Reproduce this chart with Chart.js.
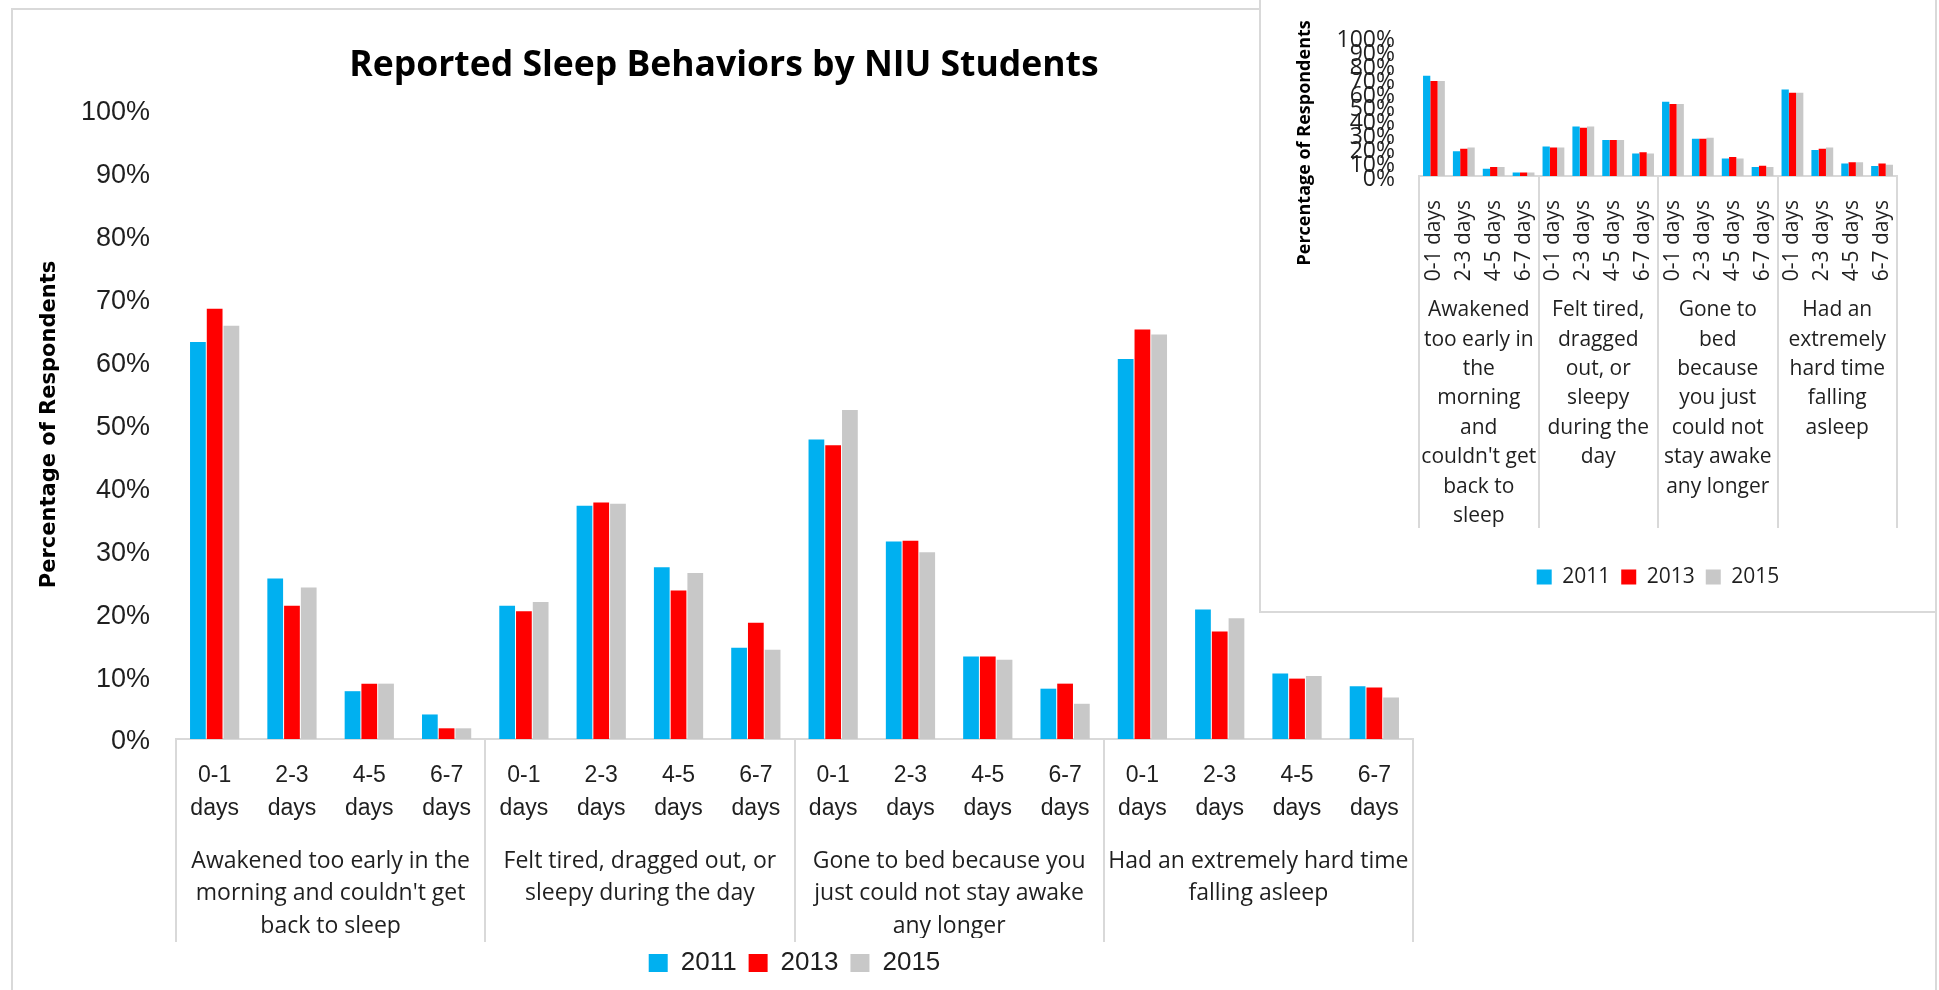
<!DOCTYPE html>
<html>
<head>
<meta charset="utf-8">
<script src="https://cdn.jsdelivr.net/npm/chart.js@4.4.1/dist/chart.umd.min.js"></script>
<style>
  html, body { margin: 0; padding: 0; background: #fff; overflow: hidden; width: 1939px; height: 990px; }
  .frame { position: absolute; box-sizing: border-box; border: 2px solid #d9d9d9; background: #fff; }
  #mainFrame { left: 11px; top: 8px; width: 1926px; height: 1000px; }
  #insetFrame { left: 1259px; top: -2px; width: 678px; height: 615px; z-index: 2; }
  canvas { position: absolute; left: 0; top: 0; }
</style>
</head>
<body>
<div class="frame" id="mainFrame"><canvas id="mainChart" width="1424" height="980"></canvas></div>
<div class="frame" id="insetFrame"><canvas id="insetChart" width="674" height="611"></canvas></div>
<script>
// Survey answers: how many days in the past week each behaviour happened
const dayBins = ['0-1 days', '2-3 days', '4-5 days', '6-7 days'];
const behaviors = [
  "Awakened too early in the morning and couldn't get back to sleep",
  'Felt tired, dragged out, or sleepy during the day',
  'Gone to bed because you just could not stay awake any longer',
  'Had an extremely hard time falling asleep'
];
// Wrapped group captions for the wide chart and for the small copy
const behaviorLinesMain = [
  ['Awakened too early in the', "morning and couldn't get", 'back to sleep'],
  ['Felt tired, dragged out, or', 'sleepy during the day'],
  ['Gone to bed because you', 'just could not stay awake', 'any longer'],
  ['Had an extremely hard time', 'falling asleep']
];
const behaviorLinesInset = [
  ['Awakened', 'too early in', 'the', 'morning', 'and', "couldn't get", 'back to', 'sleep'],
  ['Felt tired,', 'dragged', 'out, or', 'sleepy', 'during the', 'day'],
  ['Gone to', 'bed', 'because', 'you just', 'could not', 'stay awake', 'any longer'],
  ['Had an', 'extremely', 'hard time', 'falling', 'asleep']
];
const years = ['2011', '2013', '2015'];
const percentTicks = [0, 10, 20, 30, 40, 50, 60, 70, 80, 90, 100];

// Percentage of respondents, 16 values per year (4 behaviours x 4 day bins)
const main2011 = [63.1, 25.5, 7.6, 3.9, 21.2, 37.1, 27.3, 14.5, 47.6, 31.4, 13.1, 8.0, 60.4, 20.6, 10.4, 8.4];
const main2013 = [68.4, 21.2, 8.8, 1.7, 20.3, 37.6, 23.6, 18.5, 46.7, 31.5, 13.1, 8.8, 65.1, 17.1, 9.6, 8.2];
const main2015 = [65.7, 24.1, 8.8, 1.7, 21.8, 37.4, 26.4, 14.2, 52.3, 29.7, 12.6, 5.6, 64.3, 19.2, 10.0, 6.6];

const inset2011 = [72.6, 17.9, 5.3, 2.6, 21.4, 35.8, 26.0, 16.3, 53.7, 27.0, 12.6, 6.5, 62.6, 18.8, 9.1, 7.2];
const inset2013 = [68.8, 19.8, 6.5, 2.6, 20.7, 34.9, 26.0, 17.2, 52.1, 27.0, 13.7, 7.4, 60.2, 19.8, 10.0, 9.1];
const inset2015 = [68.8, 20.7, 6.5, 2.6, 20.7, 35.8, 26.0, 16.3, 52.1, 27.7, 12.6, 6.5, 60.2, 20.7, 10.0, 8.1];

const yearColors = ['#00B0F0', '#FF0000', '#C8C8C8'];
const EDGE = '#d9d9d9';
const INK = '#1f1f1f';

Chart.defaults.font.family = "'Liberation Sans', Arial, sans-serif";
Chart.defaults.color = INK;

// one label per bar cluster: every behaviour repeats the four day bins
const mainDayLabels = behaviors.flatMap(() => dayBins.map(d => d.split(' ')));
const insetDayLabels = behaviors.flatMap(() => dayBins);

// only the outer edges of each behaviour group get a separator line
const groupEdge = ctx =>
  (ctx.index === undefined || ctx.index % dayBins.length === 0) ? EDGE : 'rgba(0,0,0,0)';

function yearSets(series, catPct, barPct) {
  return years.map((y, i) => ({
    label: y,
    data: series[i],
    backgroundColor: yearColors[i],
    borderWidth: 0,
    categoryPercentage: catPct,
    barPercentage: barPct
  }));
}

// ---------- wide chart ----------
new Chart(document.getElementById('mainChart'), {
  type: 'bar',
  data: {
    labels: mainDayLabels,
    datasets: yearSets([main2011, main2013, main2015], 0.65, 0.94)
  },
  options: {
    responsive: false,
    animation: false,
    devicePixelRatio: 1,
    layout: { padding: { left: 22, right: 24, top: 0, bottom: 4 } },
    plugins: {
      title: {
        display: true,
        text: 'Reported Sleep Behaviors by NIU Students',
        color: '#000',
        font: { family: "'Open Sans', sans-serif", weight: 'bold', size: 35.5 },
        padding: { top: 35, bottom: 22.4 }
      },
      legend: {
        position: 'bottom',
        fullSize: false,
        labels: {
          font: { size: 26 },
          color: INK,
          boxWidth: 19,
          boxHeight: 18,
          padding: 12
        }
      },
      tooltip: { enabled: false }
    },
    scales: {
      y: {
        min: 0,
        max: 100,
        afterFit: s => { s.width = 141; },
        afterBuildTicks: s => { s.ticks = percentTicks.map(v => ({ value: v })); },
        ticks: { callback: v => v + '%', font: { size: 27 }, color: INK, padding: 26, labelOffset: 3 },
        grid: { display: false, drawTicks: false },
        border: { display: false },
        title: {
          display: true,
          text: 'Percentage of Respondents',
          color: '#000',
          font: { family: "'DejaVu Sans', sans-serif", weight: 'bold', size: 21 },
          padding: { top: 1.5, bottom: 0 }
        }
      },
      x: {
        position: 'bottom',
        afterFit: s => { s.height = 90; },
        grid: { offset: true, drawOnChartArea: false, tickLength: 90, color: groupEdge, lineWidth: 2 },
        border: { display: true, color: EDGE, width: 2 },
        ticks: { autoSkip: false, maxRotation: 0, padding: -69.5, color: INK, font: { size: 23, lineHeight: 33 / 23 } }
      },
      x2: {
        type: 'category',
        position: 'bottom',
        weight: 1,
        labels: behaviorLinesMain,
        afterFit: s => { s.height = 109; },
        grid: { offset: true, drawOnChartArea: false, tickLength: 113, color: EDGE, lineWidth: 2 },
        border: { display: false },
        ticks: {
          autoSkip: false, maxRotation: 0, padding: -97.25, color: INK,
          font: { family: "'Open Sans', sans-serif", size: 23, lineHeight: 32.5 / 23 }
        }
      }
    }
  }
});

// ---------- small copy with rotated day labels ----------
new Chart(document.getElementById('insetChart'), {
  type: 'bar',
  data: {
    labels: insetDayLabels,
    datasets: yearSets([inset2011, inset2013, inset2015], 0.73, 1.0)
  },
  options: {
    responsive: false,
    animation: false,
    devicePixelRatio: 1,
    layout: { padding: { left: 0, right: 38, top: 32, bottom: 13.5 } },
    plugins: {
      title: { display: false },
      legend: {
        position: 'bottom',
        fullSize: false,
        labels: {
          font: { family: "'Open Sans', sans-serif", size: 21 },
          color: INK,
          boxWidth: 15,
          boxHeight: 15,
          padding: 11
        }
      },
      tooltip: { enabled: false }
    },
    scales: {
      y: {
        min: 0,
        max: 100,
        afterFit: s => { s.width = 158; },
        afterBuildTicks: s => { s.ticks = percentTicks.map(v => ({ value: v })); },
        ticks: {
          autoSkip: false, callback: v => v + '%', color: INK, padding: 24, labelOffset: 3,
          font: { family: "'Open Sans', sans-serif", size: 23 }
        },
        grid: { display: false, drawTicks: false },
        border: { display: false },
        title: {
          display: true,
          text: 'Percentage of Respondents\u2002\u2002\u2002\u2002\u2002\u2002\u2002\u2002',
          color: '#000',
          font: { family: "'Open Sans', sans-serif", weight: 'bold', size: 18 },
          padding: { top: 33, bottom: 0 }
        }
      },
      x: {
        position: 'bottom',
        afterFit: s => { s.height = 110; },
        grid: { offset: true, drawOnChartArea: false, tickLength: 110, color: groupEdge, lineWidth: 2 },
        border: { display: true, color: EDGE, width: 2 },
        ticks: {
          autoSkip: false, minRotation: 90, maxRotation: 90, padding: -86, color: INK,
          font: { family: "'Open Sans', sans-serif", size: 21 }
        }
      },
      x2: {
        type: 'category',
        position: 'bottom',
        weight: 1,
        labels: behaviorLinesInset,
        afterFit: s => { s.height = 269.5; },
        grid: { offset: true, drawOnChartArea: false, tickLength: 242, color: EDGE, lineWidth: 2 },
        border: { display: false },
        ticks: {
          autoSkip: false, maxRotation: 0, padding: -232.5, color: INK,
          font: { family: "'Open Sans', sans-serif", size: 21, lineHeight: 1.4 }
        }
      }
    }
  }
});
</script>
</body>
</html>
